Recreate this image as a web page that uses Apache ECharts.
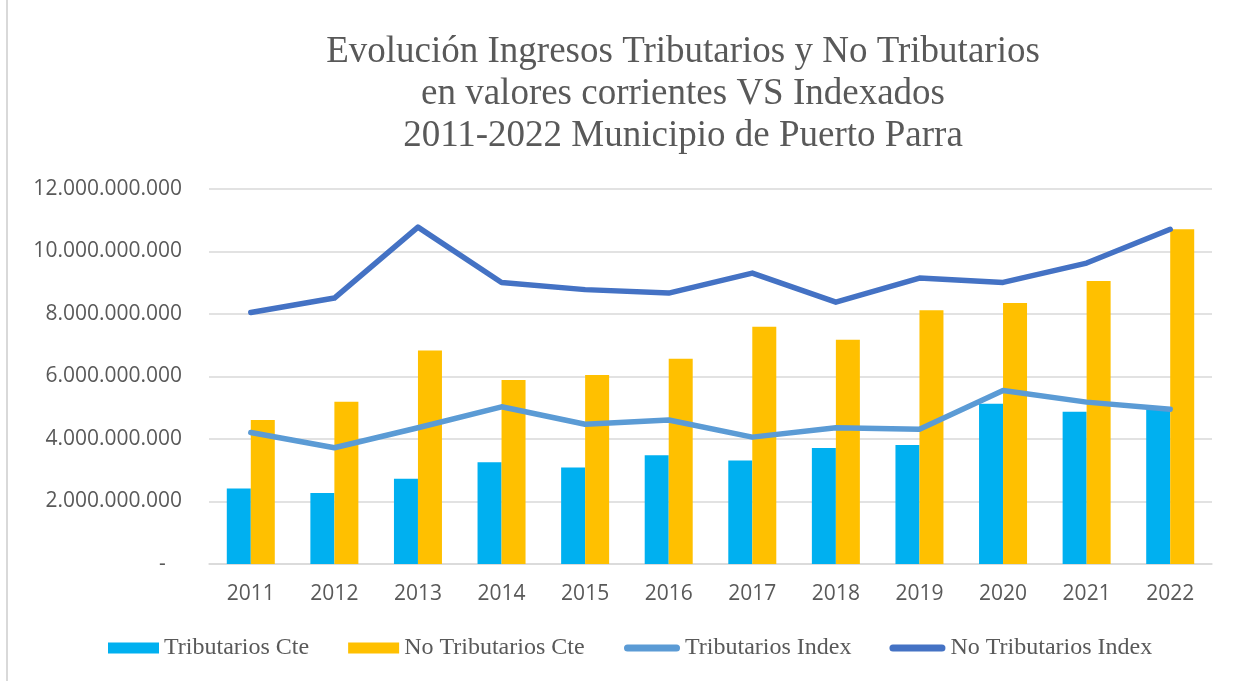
<!DOCTYPE html>
<html>
<head>
<meta charset="utf-8">
<script src="https://cdn.jsdelivr.net/npm/echarts@6/dist/echarts.min.js"></script>
<style>
  html, body { margin: 0; padding: 0; background: #fff; }
  #chart { width: 1236px; height: 681px; }
</style>
</head>
<body>
<div id="chart"></div>
<script>
  // datos
  const years = ['2011', '2012', '2013', '2014', '2015', '2016', '2017', '2018', '2019', '2020', '2021', '2022']
  const tribCte = [2.42e9, 2.27e9, 2.73e9, 3.26e9, 3.09e9, 3.48e9, 3.31e9, 3.71e9, 3.81e9, 5.13e9, 4.87e9, 4.95e9]
  const noTribCte = [4.61e9, 5.19e9, 6.83e9, 5.89e9, 6.05e9, 6.57e9, 7.59e9, 7.18e9, 8.12e9, 8.35e9, 9.06e9, 10.71e9]
  const tribIndex = [4.21e9, 3.72e9, 4.36e9, 5.03e9, 4.47e9, 4.61e9, 4.06e9, 4.36e9, 4.31e9, 5.55e9, 5.18e9, 4.95e9]
  const noTribIndex = [8.05e9, 8.51e9, 10.78e9, 9.01e9, 8.78e9, 8.67e9, 9.31e9, 8.38e9, 9.15e9, 9.01e9, 9.63e9, 10.71e9]
  const titleText = 'Evolución Ingresos Tributarios y No Tributarios\nen valores corrientes VS Indexados\n2011-2022 Municipio de Puerto Parra'

  const gray = '#595959'
  const lineGray = '#d9d9d9'
  const serif = '"Liberation Serif", "Times New Roman", serif'
  const sans = '"Open Sans", "Liberation Sans", sans-serif'

  function fmtMiles(v) {
    if (v === 0) return '-   '
    return String(Math.round(v)).replace(/\B(?=(\d{3})+(?!\d))/g, '.')
  }

  const chart = echarts.init(document.getElementById('chart'))

  const legendText = {color: gray, fontSize: 24, fontFamily: serif, lineHeight: 24}
  const capsule = 'path://M3.5,0 L52.5,0 A3.5,3.5 0 0 1 52.5,7 L3.5,7 A3.5,3.5 0 0 1 3.5,0 Z'

  const option = {
    animation: false,
    backgroundColor: '#fff',
    graphic: [
      {
        type: 'rect',
        shape: {x: 6, y: 0, width: 2, height: 681},
        style: {fill: lineGray},
        silent: true
      },
      {
        type: 'text',
        x: 683,
        y: 31,
        style: {
          text: titleText,
          fill: gray,
          fontSize: 37,
          fontFamily: serif,
          lineHeight: 42,
          textAlign: 'center',
          textVerticalAlign: 'top'
        },
        silent: true
      }
    ],
    legend: [
      {
        left: 103,
        top: 631,
        itemWidth: 51,
        itemHeight: 11,
        itemGap: 39,
        icon: 'rect',
        textStyle: legendText,
        data: ['Tributarios Cte', 'No Tributarios Cte']
      },
      {
        left: 619,
        top: 631,
        itemWidth: 56,
        itemHeight: 7,
        itemGap: 38,
        textStyle: legendText,
        data: [
          {name: 'Tributarios Index', icon: capsule},
          {name: 'No Tributarios Index', icon: capsule}
        ]
      }
    ],
    grid: {left: 209, right: 24, top: 189, bottom: 117},
    xAxis: {
      type: 'category',
      data: years,
      axisLine: {lineStyle: {color: lineGray, width: 1.5}},
      axisTick: {length: 8, lineStyle: {color: lineGray, width: 1.5}},
      axisLabel: {color: gray, fontSize: 21, fontFamily: sans, margin: 20}
    },
    yAxis: {
      type: 'value',
      min: 0,
      max: 12e9,
      interval: 2e9,
      axisLine: {show: false},
      axisTick: {show: false},
      splitLine: {lineStyle: {color: lineGray, width: 1.5}},
      axisLabel: {color: gray, fontSize: 21, fontFamily: sans, margin: 27, formatter: fmtMiles}
    },
    series: [
      {
        name: 'Tributarios Cte',
        type: 'bar',
        data: tribCte,
        barWidth: 24,
        barGap: '0%',
        itemStyle: {color: '#00b0f0'}
      },
      {
        name: 'No Tributarios Cte',
        type: 'bar',
        data: noTribCte,
        barWidth: 24,
        barGap: '0%',
        itemStyle: {color: '#ffc000'}
      },
      {
        name: 'Tributarios Index',
        type: 'line',
        data: tribIndex,
        symbol: 'none',
        itemStyle: {color: '#5b9bd5'},
        lineStyle: {color: '#5b9bd5', width: 5.5, cap: 'round', join: 'round'},
        z: 3
      },
      {
        name: 'No Tributarios Index',
        type: 'line',
        data: noTribIndex,
        symbol: 'none',
        itemStyle: {color: '#4472c4'},
        lineStyle: {color: '#4472c4', width: 5.5, cap: 'round', join: 'round'},
        z: 3
      }
    ]
  }

  chart.setOption(option)
</script>
</body>
</html>
